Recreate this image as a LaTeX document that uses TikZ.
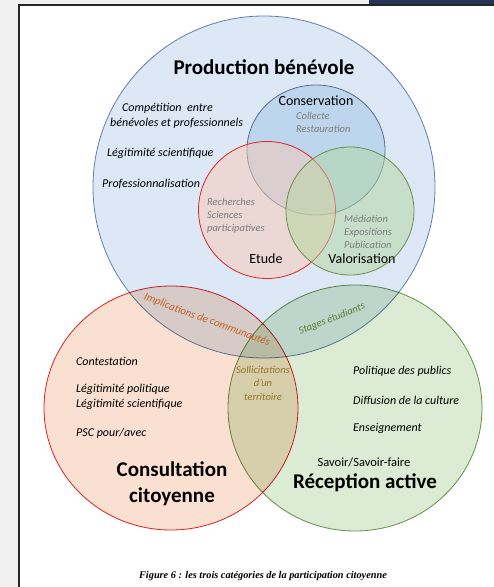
\documentclass[tikz,border=0pt]{standalone}
\usepackage{fontspec}
\setmainfont{Carlito}
\newfontfamily\captionfont{Liberation Serif}

\definecolor{pagegray}{RGB}{240,240,240}
\definecolor{barblue}{RGB}{38,52,88}
\definecolor{prodfill}{RGB}{220,232,245}
\definecolor{prodline}{RGB}{98,128,170}
\definecolor{consfill}{RGB}{160,195,230}
\definecolor{consline}{RGB}{88,108,138}
\definecolor{etudefill}{RGB}{250,200,180}
\definecolor{redline}{RGB}{226,36,40}
\definecolor{valofill}{RGB}{180,215,160}
\definecolor{valoline}{RGB}{112,140,72}
\definecolor{citfill}{RGB}{250,224,208}
\definecolor{recfill}{RGB}{220,235,211}
\definecolor{recline}{RGB}{112,150,82}
\definecolor{graytext}{RGB}{125,125,125}
\definecolor{orangetext}{RGB}{196,98,40}
\definecolor{greentext}{RGB}{84,128,52}
\definecolor{olivetext}{RGB}{150,118,40}

\tikzstyle{plain} = [inner sep = 0pt]
\tikzstyle{category} = [plain, font = \fontsize{21}{26}\selectfont\bfseries, align = center]
\tikzstyle{sphere} = [plain, font = \fontsize{14}{16}\selectfont]
\tikzstyle{activity} = [plain, font = \fontsize{10.5}{13}\selectfont\itshape, text = graytext, align = left, anchor = west]
\tikzstyle{stake} = [plain, font = \fontsize{12}{14}\selectfont\itshape, anchor = west]
\tikzstyle{crossing} = [plain, font = \fontsize{10.5}{13.5}\selectfont\itshape, align = center]
\tikzstyle{ring} = [line width = 0.8pt]

\begin{document}
\begin{tikzpicture}[x = 1pt, y = -1pt]
  \useasboundingbox (0, 0) rectangle (494, 587);
  % Page
  \fill[pagegray] (0, 0) rectangle (494, 587);
  \fill[barblue] (369, 0) rectangle (494, 5);
  \fill[white] (19, 5) rectangle (494, 587);
  \draw[line width = 1.3pt, black!85] (19, 587) -- (19, 5) -- (494, 5);

  % Production benevole and its three spheres
  \draw[ring, prodline, fill = prodfill] (264, 187) circle (171);
  \draw[ring, consline, fill = consfill, fill opacity = 0.5]
    (316, 150) ellipse [x radius = 69, y radius = 65];
  \draw[ring, redline, fill = etudefill, fill opacity = 0.5]
    (267, 210) circle (68.5);
  \draw[ring, valoline, fill = valofill, fill opacity = 0.5]
    (350, 211) circle (64);

  % Consultation citoyenne and Reception active
  \begin{scope}[blend mode = multiply]
    \draw[ring, redline, fill = citfill]
      (171, 408) ellipse [x radius = 127, y radius = 122];
    \draw[ring, recline, fill = recfill]
      (355, 408) ellipse [x radius = 127, y radius = 123];
  \end{scope}

  % Titles
  \node[category] (production) at (264, 67) {Production bénévole};
  \node[category] (consultation) at (172, 484) {Consultation\\citoyenne};
  \node[category] (reception) at (365, 483) {Réception active};
  \node[plain, font = \fontsize{12.5}{15}\selectfont] (savoir) at (364, 462)
    {Savoir/Savoir-faire};

  % Spheres
  \node[sphere] (conservation) at (316, 101) {Conservation};
  \node[sphere] (etude) at (266, 259) {Etude};
  \node[sphere] (valorisation) at (362, 259) {Valorisation};
  \node[activity] (collecte) at (296, 122) {Collecte\\Restauration};
  \node[activity] (recherches) at (207, 216)
    {Recherches\\Sciences\\participatives};
  \node[activity] (mediation) at (344, 232)
    {Médiation\\Expositions\\Publication};

  % Stakes of the volunteers
  \node[stake] (competition) at (122, 108) {Compétition~ entre};
  \node[stake] (benevoles) at (110, 123) {bénévoles et professionnels};
  \node[stake] (legitimite) at (107, 153) {Légitimité scientifique};
  \node[stake] (profession) at (102, 184) {Professionnalisation};

  % Stakes of the citizens
  \node[stake] (contestation) at (76, 361) {Contestation};
  \node[stake] (politique) at (76, 389) {Légitimité politique};
  \node[stake] (scientifique) at (76, 404) {Légitimité scientifique};
  \node[stake] (psc) at (76, 433) {PSC pour/avec};

  % Stakes of the public
  \node[stake] (publics) at (353, 371) {Politique des publics};
  \node[stake] (diffusion) at (353, 400) {Diffusion de la culture};
  \node[stake] (enseignement) at (353, 428) {Enseignement};

  % Crossings
  \node[crossing, text = orangetext, rotate = -20, font = \fontsize{11}{13}\selectfont\itshape]
    (implications) at (207, 320) {Implications de communautés};
  \node[crossing, text = greentext, rotate = 22] (stages) at (332, 319)
    {Stages étudiants};
  \node[crossing, text = olivetext] (sollicitations) at (263, 383)
    {Sollicitations\\d’un\\territoire};

  % Caption
  \node[plain, font = \captionfont\fontsize{10.3}{12}\selectfont\bfseries\itshape]
    (caption) at (263, 576)
    {Figure 6 : les trois catégories de la participation citoyenne};
\end{tikzpicture}
\end{document}
